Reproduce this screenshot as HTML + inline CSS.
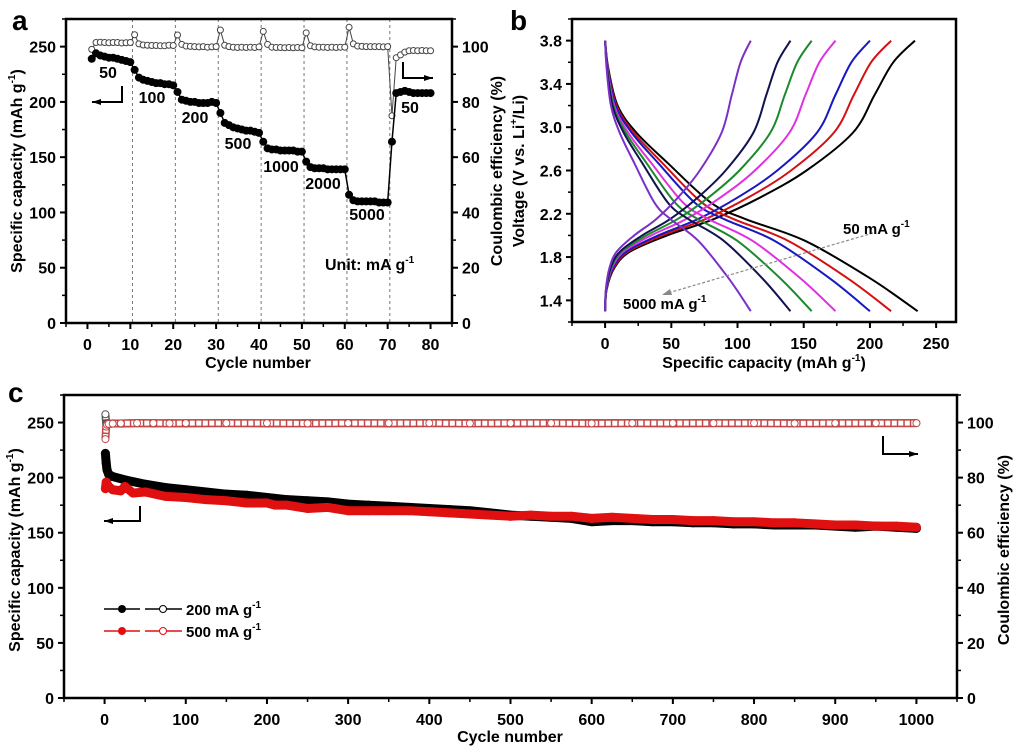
<!DOCTYPE html>
<html><head><meta charset="utf-8"><style>
html,body{margin:0;padding:0;background:#fff;}
svg{display:block;font-family:"Liberation Sans",Arial,sans-serif;font-weight:bold;}
</style></head>
<body>
<svg id="fig" width="1016" height="755" viewBox="0 0 1016 755" xmlns="http://www.w3.org/2000/svg"></svg>
<script>
// ---------- Panel a data ----------
const aCycles = Array.from({length:80},(_,i)=>i+1);
const aCapacity = [239,244,242,241,240,240,239,238,237,236,
229,222,220,219,218,217,217,216,216,215,
209,202,201,200,200,199,199,199,200,199,
190,181,179,177,176,175,174,174,173,172,
164,158,157,157,156,156,156,156,155,155,
146,141,140,140,140,139,139,139,139,139,
116,111,110,110,110,110,110,109,109,109,
164,208,209,210,209,208,208,208,208,208];
const aCE = [99,101.5,101.6,101.5,101.4,101.5,101.5,101.3,101.4,101.5,
104.3,101,100.6,100.5,100.4,100.4,100.3,100.3,100.5,100.4,
104.2,100.8,100.2,100.1,100,99.9,100,99.8,99.9,100,
106,100.5,100,99.8,99.7,99.8,99.7,99.8,99.7,99.9,
105.5,100.8,99.8,99.7,99.7,99.6,99.7,99.6,99.7,99.6,
105,100.3,99.9,99.8,99.8,99.7,99.8,99.7,99.8,99.8,
107,101,100.2,100.1,100,100,100,100,99.9,100,
75,96,97,98,98.5,98.6,98.5,98.6,98.5,98.5];
const aRateLabels = ["50","100","200","500","1000","2000","5000","50"];
const aXTicks = [0,10,20,30,40,50,60,70,80];
const aYTicks = [0,50,100,150,200,250];
const aY2Ticks = [0,20,40,60,80,100];
// ---------- Panel b data ----------
const bRates = ["50","100","200","500","1000","2000","5000"];
const bDisCap = [236,216,200,174,156,140,110];
const bChgCap = [234,216,200,174,156,140,110];
const bDisFrac = [0,0.01,0.04,0.1,0.2,0.34,0.45,0.64,0.85,1];
const bDisV = [3.8,3.55,3.2,2.95,2.67,2.3,2.15,1.95,1.6,1.3];
const bChgFrac = [0,0.005,0.03,0.08,0.2,0.35,0.5,0.65,0.8,0.87,0.93,1];
const bChgV = [1.3,1.5,1.7,1.85,2.0,2.15,2.35,2.6,2.95,3.3,3.6,3.8];
const bXTicks = [0,50,100,150,200,250];
const bYTicks = [1.4,1.8,2.2,2.6,3.0,3.4,3.8];
// ---------- Panel c data ----------
const cCyc200 = [1,2,3,5,10,25,50,75,100,125,150,175,200,225,250,275,300,325,350,375,400,425,450,475,500,525,550,575,600,625,650,675,700,725,750,775,800,825,850,875,900,925,950,975,1000];
const cCap200 = [222,213,207,203,201,198,194,191,189,187,185,184,182,180,179,178,176,175,174,173,172,171,170,168,166,165,164,163,160,161,161,160,160,159,159,158,158,157,157,157,156,155,156,155,154];
const cCyc500 = [1,2,5,10,20,25,35,50,75,100,125,150,175,200,210,225,250,275,300,325,350,375,400,425,450,475,500,525,550,575,600,625,650,675,700,725,750,775,800,825,850,875,900,925,950,975,1000];
const cCap500 = [190,196,192,189,188,192,186,187,183,182,180,179,177,177,175,175,172,173,170,170,170,170,169,168,167,166,165,166,165,165,163,164,163,162,162,161,161,160,160,159,159,158,157,157,156,156,155];
const cCECyc = [1,2,3,5,10,20,40,60,80,100,150,200,250,300,350,400,450,500,550,600,650,700,750,800,850,900,950,1000];
const cCE200 = [103,99.5,99.6,99.5,99.7,99.6,99.8,99.7,99.8,99.7,99.8,99.7,99.8,99.8,99.7,99.8,99.8,99.7,99.8,99.8,99.8,99.7,99.8,99.8,99.8,99.7,99.8,99.8];
const cCE500 = [94,98.5,99.2,99.5,99.6,99.7,99.8,99.8,99.7,99.8,99.8,99.8,99.7,99.8,99.8,99.8,99.7,99.8,99.8,99.7,99.8,99.8,99.8,99.8,99.7,99.8,99.8,99.8];
const cXTicks = [0,100,200,300,400,500,600,700,800,900,1000];
const cYTicks = [0,50,100,150,200,250];
const cY2Ticks = [0,20,40,60,80,100];

const NS="http://www.w3.org/2000/svg";
const fig=document.getElementById('fig');
function mk(tag,attrs,parent){const e=document.createElementNS(NS,tag);for(const k in attrs)e.setAttribute(k,attrs[k]);(parent||fig).appendChild(e);return e;}
function txt(s,x,y,size,anchor,parent){const t=mk('text',{x:x,y:y,'font-size':size,'text-anchor':anchor||'middle'},parent);t.textContent=s;return t;}
function scale(d0,d1,r0,r1){return v=>r0+(v-d0)/(d1-d0)*(r1-r0);}
function smooth(pts){let d=`M${pts[0][0]},${pts[0][1]}`;
  for(let i=0;i<pts.length-1;i++){const p0=pts[i-1]||pts[i],p1=pts[i],p2=pts[i+1],p3=pts[i+2]||p2;
    const c1=[p1[0]+(p2[0]-p0[0])/6,p1[1]+(p2[1]-p0[1])/6],c2=[p2[0]-(p3[0]-p1[0])/6,p2[1]-(p3[1]-p1[1])/6];
    d+=` C${c1[0]},${c1[1]} ${c2[0]},${c2[1]} ${p2[0]},${p2[1]}`;}return d;}

function frame(g,L,T,R,B){
  mk('rect',{x:L,y:T,width:R-L,height:B-T,fill:'none',stroke:'#000','stroke-width':2.5},g);
}
function xAxis(g,xs,ticks,B,minorStep,dmin,dmax,fmt){
  ticks.forEach(t=>{mk('line',{x1:xs(t),y1:B,x2:xs(t),y2:B+6,stroke:'#000','stroke-width':2},g);
    const l=txt(fmt?fmt(t):t,xs(t),B+27,16,'middle',g);
    });
  for(let v=Math.ceil(dmin/minorStep)*minorStep;v<=dmax;v+=minorStep){mk('line',{x1:xs(v),y1:B,x2:xs(v),y2:B+4,stroke:'#000','stroke-width':1.5},g);}
}
function yAxis(g,ys,ticks,X,dir,minorStep,dmin,dmax,fmt){
  ticks.forEach(t=>{mk('line',{x1:X,y1:ys(t),x2:X+dir*6,y2:ys(t),stroke:'#000','stroke-width':2},g);
    const l=txt(fmt?fmt(t):t,X+dir*10,ys(t)+6,16,dir<0?'end':'start',g);
    });
  for(let v=Math.ceil(dmin/minorStep)*minorStep;v<=dmax+1e-9;v+=minorStep){mk('line',{x1:X,y1:ys(v),x2:X+dir*4,y2:ys(v),stroke:'#000','stroke-width':1.5},g);}
}
function vtitle(s,x,y,size,parent){const t=mk('text',{x:0,y:0,'font-size':size,'text-anchor':'middle',transform:`translate(${x},${y}) rotate(-90)`},parent);t.innerHTML=s;return t;}
function Larrow(g,vx,vy1,vy2,hx){mk('polyline',{points:`${vx},${vy1} ${vx},${vy2} ${hx},${vy2}`,fill:'none',stroke:'#000','stroke-width':2},g);
  const d=hx<vx?1:-1;mk('polygon',{points:`${hx},${vy2} ${hx+d*9},${vy2-3} ${hx+d*9},${vy2+3}`,fill:'#000'},g);}

// ================= Panel a =================
(function(){
  const g=mk('g',{});
  const L=66,R=452,T=19,B=323;
  const xs=scale(-5,85,L,R), ys=scale(0,275,B,T), y2=scale(0,110,B,T);
  const lab=txt('a',12,30,28,'start',g);
  for(let k=1;k<=7;k++){mk('line',{x1:xs(k*10+0.5),y1:T,x2:xs(k*10+0.5),y2:B,stroke:'#777','stroke-width':1,'stroke-dasharray':'3,3'},g);}
  mk('polyline',{points:aCycles.map((c,i)=>xs(c)+','+y2(aCE[i])).join(' '),fill:'none',stroke:'#444','stroke-width':1},g);
  aCycles.forEach((c,i)=>{const e=mk('circle',{cx:xs(c),cy:y2(aCE[i]),r:3,fill:'#fff',stroke:'#444','stroke-width':1},g);
    });
  mk('polyline',{points:aCycles.map((c,i)=>xs(c)+','+ys(aCapacity[i])).join(' '),fill:'none',stroke:'#000','stroke-width':1.5},g);
  aCycles.forEach((c,i)=>{const e=mk('circle',{cx:xs(c),cy:ys(aCapacity[i]),r:4,fill:'#000'},g);
    });
  frame(g,L,T,R,B);
  xAxis(g,xs,aXTicks,B,5,-5,85);
  yAxis(g,ys,aYTicks,L,-1,25,0,275);
  yAxis(g,y2,aY2Ticks,R,1,10,0,110);
  const pos=[[108,78],[152,103],[195,123],[238,149],[281,172],[323,189],[367,220],[410,113]];
  aRateLabels.forEach((s,i)=>{const t=txt(s,pos[i][0],pos[i][1],16,'middle',g);});
  const u=txt('',325,270,16,'start',g);u.innerHTML='Unit: mA g<tspan dy="-7" font-size="10">-1</tspan>';
  Larrow(g,122,86,102,92);Larrow(g,403,62,78,433);
  const xt=txt('Cycle number',258,368,16,'middle',g);
  const yt=vtitle('Specific capacity (mAh g<tspan dy="-7" font-size="10">-1</tspan><tspan dy="7">)</tspan>',22,171,16,g);
  const y2t=vtitle('Coulombic efficiency (%)',502,171,16,g);
})();

// ================= Panel b =================
(function(){
  const g=mk('g',{});
  const L=572,R=956,T=19,B=322;
  const xs=scale(-25,265,L,R), ys=scale(1.2,4.0,B,T);
  const lab=txt('b',510,30,28,'start',g);
  const colors=['#000','#d41010','#1818c0','#e030e0','#1c8a2c','#121250','#7a30c8'];
  bRates.forEach((r,i)=>{
    const d=mk('path',{d:smooth(bDisFrac.map((f,j)=>[xs(f*bDisCap[i]),ys(bDisV[j])])),fill:'none',stroke:colors[i],'stroke-width':2},g);
    
    const c=mk('path',{d:smooth(bChgFrac.map((f,j)=>[xs(f*bChgCap[i]),ys(bChgV[j])])),fill:'none',stroke:colors[i],'stroke-width':2},g);
    
  });
  frame(g,L,T,R,B);
  xAxis(g,xs,bXTicks,B,25,-25,265);
  yAxis(g,ys,bYTicks,L,-1,0.2,1.2,4.0,v=>v.toFixed(1));
  mk('line',{x1:873,y1:233,x2:668,y2:293,stroke:'#888','stroke-width':1.2,'stroke-dasharray':'3,2'},g);
  mk('polygon',{points:'662,295 670,289 672,295',fill:'#888'},g);
  const t1=txt('',843,234,15,'start',g);t1.innerHTML='50 mA g<tspan dy="-7" font-size="10">-1</tspan>';
  const t2=txt('',623,309,15,'start',g);t2.innerHTML='5000 mA g<tspan dy="-7" font-size="10">-1</tspan>';
  const xt=txt('',764,368,16,'middle',g);xt.innerHTML='Specific capacity (mAh g<tspan dy="-7" font-size="10">-1</tspan><tspan dy="7">)</tspan>';
  const yt=vtitle('Voltage (V vs. Li<tspan dy="-7" font-size="10">+</tspan><tspan dy="7">/Li)</tspan>',524,171,16,g);
})();

// ================= Panel c =================
(function(){
  const g=mk('g',{});
  const L=64,R=957,T=395,B=698;
  const xs=scale(-50,1050,L,R), ys=scale(0,275,B,T), y2=scale(0,110,B,T);
  const lab=txt('c',8,402,28,'start',g);
  // CE bands (hollow chain look)
  [[cCE200,'#555'],[cCE500,'#c04848']].forEach(([arr,col],k)=>{
    const pts=cCECyc.map((c,i)=>xs(c)+','+y2(arr[i])).join(' ');
    mk('polyline',{points:pts,fill:'none',stroke:col,'stroke-width':8,'stroke-linejoin':'round'},g);
    mk('polyline',{points:pts,fill:'none',stroke:'#fff','stroke-width':5,'stroke-dasharray':'5,1.5','stroke-linejoin':'round'},g);
    cCECyc.forEach((c,i)=>{const e=mk('circle',{cx:xs(c),cy:y2(arr[i]),r:3.5,fill:'#fff',stroke:col,'stroke-width':1},g);
      });
  });
  mk('polyline',{points:cCyc200.map((c,i)=>xs(c)+','+ys(cCap200[i])).join(' '),fill:'none',stroke:'#000','stroke-width':9,'stroke-linejoin':'round','stroke-linecap':'round'},g);
  cCyc200.forEach((c,i)=>{const e=mk('circle',{cx:xs(c),cy:ys(cCap200[i]),r:4.5,fill:'#000'},g);});
  mk('polyline',{points:cCyc500.map((c,i)=>xs(c)+','+ys(cCap500[i])).join(' '),fill:'none',stroke:'#e01010','stroke-width':9,'stroke-linejoin':'round','stroke-linecap':'round'},g);
  cCyc500.forEach((c,i)=>{const e=mk('circle',{cx:xs(c),cy:ys(cCap500[i]),r:4.5,fill:'#e01010'},g);});
  frame(g,L,T,R,B);
  xAxis(g,xs,cXTicks,B,50,-50,1050);
  yAxis(g,ys,cYTicks,L,-1,25,0,275);
  yAxis(g,y2,cY2Ticks,R,1,10,0,110);
  Larrow(g,140,506,521,104);Larrow(g,883,436,454,918);
  [['200','#000',609],['500','#e01010',631]].forEach(([r,col,y])=>{
    const lg=mk('g',{},g);
    mk('line',{x1:104,y1:y,x2:140,y2:y,stroke:col,'stroke-width':1.5},lg);
    mk('circle',{cx:122,cy:y,r:4,fill:col},lg);
    mk('line',{x1:145,y1:y,x2:182,y2:y,stroke:col,'stroke-width':1.5},lg);
    mk('circle',{cx:163,cy:y,r:3.5,fill:'#fff',stroke:col,'stroke-width':1},lg);
    const t=txt('',186,y+6,15,'start',lg);t.innerHTML=r+' mA g<tspan dy="-7" font-size="10">-1</tspan>';
  });
  const xt=txt('Cycle number',510,742,16,'middle',g);
  const yt=vtitle('Specific capacity (mAh g<tspan dy="-7" font-size="10">-1</tspan><tspan dy="7">)</tspan>',20,550,16,g);
  const y2t=vtitle('Coulombic efficiency (%)',1009,550,16,g);
})();
</script>
</body></html>
